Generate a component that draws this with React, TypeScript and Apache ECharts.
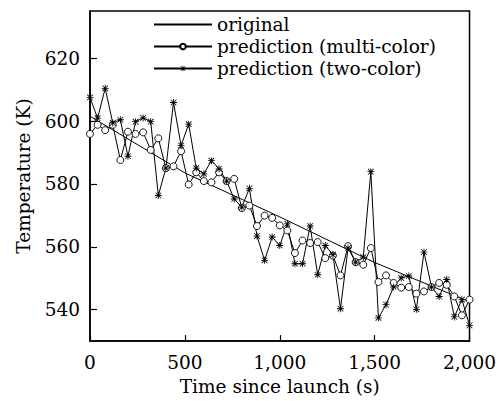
import React, { useEffect, useRef } from "react";
import * as echarts from "echarts";

const times = [0, 40, 80, 120, 160, 200, 240, 280, 320, 360, 400, 440, 480, 520, 560, 600, 640, 680, 720, 760, 800, 840, 880, 920, 960, 1000, 1040, 1080, 1120, 1160, 1200, 1240, 1280, 1320, 1360, 1400, 1440, 1480, 1520, 1560, 1600, 1640, 1680, 1720, 1760, 1800, 1840, 1880, 1920, 1960, 2000];

const multiColor = [595.9, 598.8, 597.1, 598.8, 587.6, 596.6, 595.9, 596.4, 590.8, 594.5, 585.0, 585.6, 590.4, 579.8, 583.7, 580.9, 580.5, 583.7, 580.9, 581.6, 572.3, 573.1, 566.6, 569.9, 569.2, 566.8, 565.2, 558.0, 562.0, 561.2, 561.5, 556.4, 557.2, 550.9, 560.2, 555.1, 554.3, 559.6, 548.8, 550.9, 548.5, 547.0, 547.2, 545.1, 545.8, 547.2, 548.5, 547.9, 544.2, 538.2, 543.2];

const twoColor = [607.5, 600.9, 610.4, 599.4, 600.4, 588.8, 599.8, 601.0, 599.8, 576.3, 585.0, 605.9, 592.2, 599.0, 585.0, 583.2, 587.4, 584.8, 580.9, 575.2, 572.6, 578.6, 563.4, 555.7, 563.1, 560.4, 567.3, 554.6, 554.6, 566.6, 551.1, 560.4, 557.5, 540.3, 559.6, 555.1, 556.7, 583.9, 537.4, 541.6, 547.2, 550.1, 550.7, 540.1, 558.3, 547.2, 544.2, 549.6, 537.7, 543.2, 535.0];

const originalTimes = [0, 500, 1000, 1500, 2000];
const originalTemps = [601.5, 583.5, 569.5, 555.0, 542.5];

const yTicks = [540, 560, 580, 600, 620];

const FONT = "DejaVu Serif";
const FS = 18.5;

const STAR =
  "path://M4.4 0H5.6V10H4.4Z M0 4.4H10V5.6H0Z M0.6 1.4L1.4 0.6L9.4 8.6L8.6 9.4Z M8.6 0.6L9.4 1.4L1.4 9.4L0.6 8.6Z";

export default function App() {
  const ref = useRef<HTMLDivElement>(null);
  useEffect(() => {
    if (!ref.current) return;
    const chart = echarts.init(ref.current, null, { renderer: "svg" });
    const zip = (xs: number[], ys: number[]) => xs.map((x, i) => [x, ys[i]]);
    chart.setOption({
      animation: false,
      backgroundColor: "#ffffff",
      textStyle: { fontFamily: FONT, color: "#000" },
      grid: {
        left: 90,
        right: 29,
        top: 11,
        bottom: 58,
        show: true,
        borderColor: "#000",
        borderWidth: 1.5,
        backgroundColor: "transparent",
      },
      legend: {
        orient: "vertical",
        left: 153,
        top: 15,
        padding: 0,
        itemWidth: 58,
        itemHeight: 7,
        itemGap: 3,
        textStyle: { fontFamily: FONT, fontSize: FS, color: "#000" },
        data: [
          { name: "original", itemStyle: { opacity: 0 } },
          { name: "prediction (multi-color)" },
          { name: "prediction (two-color)" },
        ],
      },
      xAxis: {
        type: "value",
        min: 0,
        max: 2000,
        interval: 500,
        name: "Time since launch (s)",
        nameLocation: "middle",
        nameGap: 33,
        nameTextStyle: { fontFamily: FONT, fontSize: FS, color: "#000" },
        axisLine: { show: true, lineStyle: { color: "#000", width: 1.5 } },
        axisTick: { show: true, inside: true, length: 6, lineStyle: { color: "#000", width: 1.2 } },
        axisLabel: {
          fontFamily: FONT,
          fontSize: FS,
          color: "#000",
          margin: 12,
          formatter: (v: number) => v.toLocaleString("en-US"),
        },
        splitLine: { show: false },
      },
      yAxis: {
        type: "value",
        min: 530,
        max: 635,
        name: "Temperature (K)",
        nameLocation: "middle",
        nameGap: 57,
        nameTextStyle: { fontFamily: FONT, fontSize: FS, color: "#000" },
        axisLine: { show: true, lineStyle: { color: "#000", width: 1.5 } },
        axisTick: { show: true, inside: true, length: 7, customValues: yTicks, lineStyle: { color: "#000", width: 1.2 } },
        axisLabel: { fontFamily: FONT, fontSize: FS, color: "#000", margin: 10, customValues: yTicks },
        splitLine: { show: false },
      },
      series: [
        {
          name: "original",
          type: "line",
          data: zip(originalTimes, originalTemps),
          symbol: "none",
          lineStyle: { color: "#000", width: 1 },
          itemStyle: { color: "#000" },
        },
        {
          name: "prediction (multi-color)",
          type: "line",
          data: zip(times, multiColor),
          symbol: "circle",
          symbolSize: 7,
          lineStyle: { color: "#000", width: 1 },
          itemStyle: { color: "#fff", borderColor: "#000", borderWidth: 0.9 },
        },
        {
          name: "prediction (two-color)",
          type: "line",
          data: zip(times, twoColor),
          symbol: STAR,
          symbolSize: 7,
          lineStyle: { color: "#000", width: 1 },
          itemStyle: { color: "#000" },
        },
      ],
    });
    return () => chart.dispose();
  }, []);
  return (
    <div
      ref={ref}
      style={{ position: "fixed", left: 0, top: 0, width: 499, height: 401, background: "#fff" }}
    />
  );
}
